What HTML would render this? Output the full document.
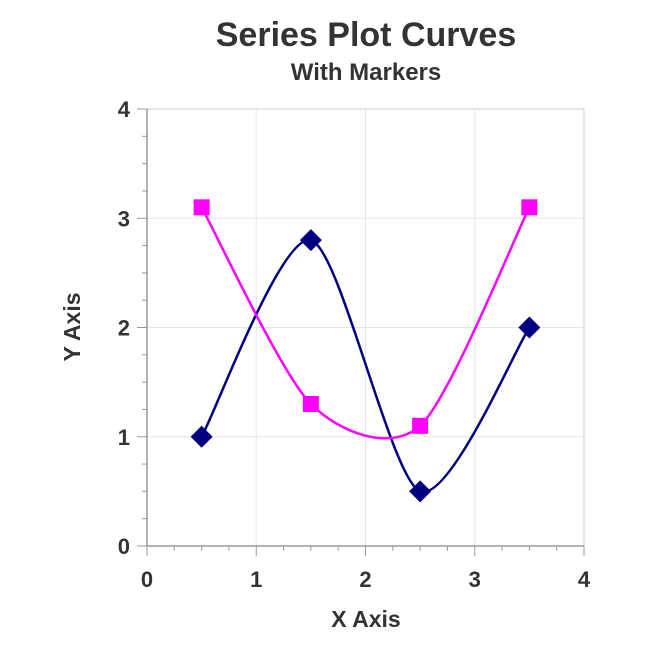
<!DOCTYPE html>
<html><head><meta charset="utf-8"><style>
body{margin:0;background:#fff;font-family:"Liberation Sans",sans-serif}
svg text{font-family:"Liberation Sans",sans-serif;font-weight:bold;fill:#333}
</style></head><body>
<svg id="c" width="650" height="650">
<text x="366" y="46" font-size="34" text-anchor="middle">Series Plot Curves</text>
<text x="366" y="80" font-size="24" text-anchor="middle">With Markers</text>
<text x="366" y="627" font-size="23" text-anchor="middle">X Axis</text>
<text x="80" y="327" font-size="23" text-anchor="middle" transform="rotate(-90 80 327)">Y Axis</text>
<g id="grid"></g><g id="axes"></g><g id="series"></g>
</svg>
<script>
const xTicks=[0,1,2,3,4];
const yTicks=[0,1,2,3,4];
const seriesAX=[0.5,1.5,2.5,3.5];
const seriesAY=[1,2.8,0.5,2];
const seriesBX=[0.5,1.5,2.5,3.5];
const seriesBY=[3.1,1.3,1.1,3.1];
const L=147,R=584,T=109,B=546;
const sx=v=>L+(R-L)*v/4, sy=v=>B-(B-T)*v/4;
const NS="http://www.w3.org/2000/svg";
function mk(p,tag,attrs){const e=document.createElementNS(NS,tag);for(const k in attrs)e.setAttribute(k,attrs[k]);p.appendChild(e);return e;}
const grid=document.getElementById('grid'),axes=document.getElementById('axes'),ser=document.getElementById('series');
const box=mk(grid,'rect',{x:L,y:T,width:R-L,height:B-T,fill:'none',stroke:'#ccc'});


xTicks.forEach(v=>{
 if(v>0&&v<4){const g=mk(grid,'line',{x1:sx(v),x2:sx(v),y1:T,y2:B,stroke:'#e6e6e6'});
 
 }
 mk(axes,'line',{x1:sx(v),x2:sx(v),y1:B,y2:B+10,stroke:'#999'});
 const t=mk(axes,'text',{x:sx(v),y:B+41,'font-size':22,'text-anchor':'middle'});t.textContent=v;
 
 
});
yTicks.forEach(v=>{
 if(v>0&&v<4){const g=mk(grid,'line',{x1:L,x2:R,y1:sy(v),y2:sy(v),stroke:'#e6e6e6'});
 
 }
 mk(axes,'line',{x1:L-10,x2:L,y1:sy(v),y2:sy(v),stroke:'#999'});
 const t=mk(axes,'text',{x:L-17,y:sy(v)+8,'font-size':22,'text-anchor':'end'});t.textContent=v;
 
 
});
for(let i=0;i<16;i++){const v=i/4;if(i%4==0)continue;
 mk(axes,'line',{x1:sx(v),x2:sx(v),y1:B,y2:B+5,stroke:'#999'});
 mk(axes,'line',{x1:L-5,x2:L,y1:sy(v),y2:sy(v),stroke:'#999'});}
mk(axes,'line',{x1:L,x2:R,y1:B,y2:B,stroke:'#999','stroke-width':1.5});
mk(axes,'line',{x1:L,x2:L,y1:T,y2:B,stroke:'#999','stroke-width':1.5});
function curve(xs,ys){const p=xs.map((x,i)=>[sx(x),sy(ys[i])]);let d=`M${p[0][0]},${p[0][1]}`;const k=7.5;
 for(let i=0;i<p.length-1;i++){const p0=p[i-1]||p[i],p1=p[i],p2=p[i+1],p3=p[i+2]||p[i+1];
 const c1=[p1[0]+(p2[0]-p0[0])/k,p1[1]+(p2[1]-p0[1])/k],c2=[p2[0]-(p3[0]-p1[0])/k,p2[1]-(p3[1]-p1[1])/k];
 d+=` C${c1[0]},${c1[1]} ${c2[0]},${c2[1]} ${p2[0]},${p2[1]}`;}return d;}
const la=mk(ser,'path',{d:curve(seriesAX,seriesAY),fill:'none',stroke:'#000080','stroke-width':2.5});


const lb=mk(ser,'path',{d:curve(seriesBX,seriesBY),fill:'none',stroke:'#ff00ff','stroke-width':2.5});


seriesAX.forEach((x,i)=>{const cx=sx(x),cy=sy(seriesAY[i]);
 const m=mk(ser,'polygon',{points:`${cx},${cy-11} ${cx+11},${cy} ${cx},${cy+11} ${cx-11},${cy}`,fill:'#000080'});
 
 });
seriesBX.forEach((x,i)=>{const cx=sx(x),cy=sy(seriesBY[i]);
 const m=mk(ser,'rect',{x:cx-8,y:cy-8,width:16,height:16,fill:'#ff00ff'});
 
 });
</script>
</body></html>
